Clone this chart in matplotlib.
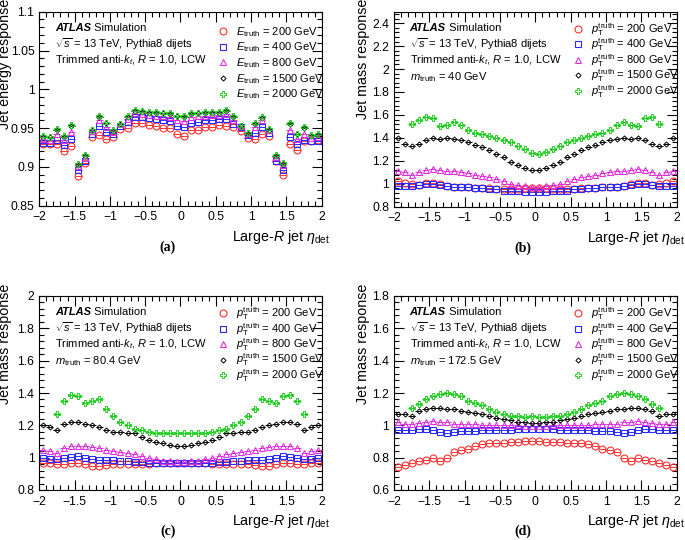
#!/usr/bin/env python3
"""Large-R jet energy / mass response vs eta_det (ATLAS-style 2x2 panel)."""
import numpy as np
import matplotlib
matplotlib.use("Agg")
import matplotlib.pyplot as plt
from matplotlib.ticker import MultipleLocator, AutoMinorLocator, FuncFormatter

plt.rcParams["font.family"] = ["Liberation Sans", "DejaVu Sans"]
plt.rcParams["mathtext.fontset"] = "custom"
plt.rcParams["mathtext.rm"] = "Liberation Sans"
plt.rcParams["mathtext.it"] = "Liberation Sans:italic"
plt.rcParams["mathtext.bf"] = "Liberation Sans:bold"

# bin edges in eta_det, 0.1 wide
eta_edges = np.linspace(-2.0, 2.0, 41)
eta = 0.5 * (eta_edges[:-1] + eta_edges[1:])
eta_in = eta[2:-2]          # 2000 GeV curve in mass panels only |eta|<1.8

# ---- (a) energy response ----
a_200 = [0.930, 0.930, 0.930, 0.920, 0.927, 0.888, 0.905, 0.938, 0.941, 0.936,
         0.939, 0.949, 0.950, 0.956, 0.957, 0.954, 0.953, 0.950, 0.950, 0.942,
         0.940, 0.948, 0.948, 0.951, 0.952, 0.954, 0.953, 0.951, 0.946, 0.937,
         0.936, 0.943, 0.940, 0.907, 0.889, 0.930, 0.922, 0.933, 0.934, 0.935]
a_400 = [0.931, 0.931, 0.935, 0.928, 0.936, 0.896, 0.907, 0.943, 0.953, 0.945,
         0.943, 0.953, 0.958, 0.964, 0.964, 0.963, 0.962, 0.960, 0.959, 0.953,
         0.951, 0.957, 0.958, 0.960, 0.961, 0.962, 0.962, 0.955, 0.951, 0.941,
         0.944, 0.952, 0.944, 0.908, 0.896, 0.938, 0.929, 0.935, 0.933, 0.934]
a_800 = [0.936, 0.935, 0.943, 0.935, 0.945, 0.901, 0.912, 0.946, 0.960, 0.951,
         0.945, 0.955, 0.962, 0.969, 0.968, 0.967, 0.966, 0.965, 0.964, 0.960,
         0.959, 0.964, 0.965, 0.966, 0.967, 0.967, 0.968, 0.961, 0.953, 0.942,
         0.951, 0.960, 0.947, 0.913, 0.902, 0.947, 0.936, 0.942, 0.937, 0.938]
a_1500 = [0.939, 0.938, 0.948, 0.939, 0.953, 0.903, 0.914, 0.947, 0.964, 0.956,
          0.946, 0.955, 0.964, 0.972, 0.971, 0.970, 0.970, 0.969, 0.968, 0.965,
          0.964, 0.968, 0.969, 0.970, 0.970, 0.970, 0.972, 0.964, 0.953, 0.943,
          0.955, 0.963, 0.948, 0.914, 0.904, 0.955, 0.942, 0.950, 0.940, 0.941]
a_2000 = [0.940, 0.939, 0.949, 0.940, 0.954, 0.904, 0.915, 0.948, 0.965, 0.957,
          0.947, 0.955, 0.965, 0.973, 0.972, 0.971, 0.971, 0.970, 0.969, 0.966,
          0.965, 0.969, 0.970, 0.971, 0.971, 0.971, 0.973, 0.965, 0.953, 0.944,
          0.956, 0.964, 0.949, 0.915, 0.905, 0.956, 0.943, 0.951, 0.941, 0.942]

# ---- (b) mass response, m_truth = 40 GeV ----
b_200 = [1.02, 1.01, 1.00, 0.99, 1.01, 1.01, 1.00, 0.98, 0.97, 0.97,
         0.97, 0.96, 0.96, 0.96, 0.95, 0.95, 0.95, 0.95, 0.96, 0.96,
         0.96, 0.96, 0.95, 0.95, 0.95, 0.95, 0.96, 0.96, 0.96, 0.97,
         0.97, 0.97, 0.98, 1.00, 1.01, 1.01, 0.99, 1.00, 1.01, 1.02]
b_400 = [0.98, 0.98, 0.98, 0.99, 1.00, 1.00, 0.99, 0.98, 0.97, 0.97,
         0.97, 0.96, 0.96, 0.95, 0.95, 0.94, 0.94, 0.94, 0.93, 0.93,
         0.93, 0.93, 0.94, 0.94, 0.94, 0.95, 0.95, 0.96, 0.96, 0.97,
         0.97, 0.97, 0.98, 0.99, 1.00, 1.00, 0.99, 0.98, 0.98, 0.98]
b_800 = [1.11, 1.10, 1.08, 1.10, 1.12, 1.13, 1.12, 1.11, 1.11, 1.10,
         1.09, 1.08, 1.07, 1.06, 1.04, 1.02, 1.00, 0.99, 0.98, 0.97,
         0.97, 0.98, 0.99, 1.00, 1.02, 1.04, 1.06, 1.07, 1.08, 1.09,
         1.10, 1.11, 1.11, 1.12, 1.13, 1.12, 1.10, 1.08, 1.10, 1.11]
b_1500 = [1.40, 1.35, 1.33, 1.35, 1.38, 1.40, 1.39, 1.40, 1.39, 1.38,
          1.36, 1.34, 1.32, 1.29, 1.26, 1.23, 1.19, 1.16, 1.14, 1.12,
          1.12, 1.14, 1.16, 1.19, 1.23, 1.26, 1.29, 1.32, 1.34, 1.36,
          1.38, 1.39, 1.40, 1.39, 1.40, 1.38, 1.35, 1.33, 1.35, 1.40]
b_2000 = [1.52, 1.56, 1.58, 1.57, 1.50, 1.51, 1.54, 1.51, 1.47, 1.44,
          1.43, 1.42, 1.40, 1.38, 1.36, 1.33, 1.30, 1.27,
          1.26, 1.28, 1.30, 1.33, 1.36, 1.38, 1.40, 1.42, 1.43, 1.44,
          1.47, 1.51, 1.54, 1.51, 1.50, 1.57, 1.58, 1.52]

# ---- (c) mass response, m_truth = 80.4 GeV ----
c_200 = [0.970, 0.965, 0.960, 0.960, 0.965, 0.965, 0.960, 0.950, 0.950, 0.955,
         0.960, 0.960, 0.960, 0.960, 0.960, 0.960, 0.965, 0.965, 0.970, 0.970,
         0.970, 0.970, 0.965, 0.965, 0.960, 0.960, 0.960, 0.960, 0.960, 0.960,
         0.955, 0.950, 0.950, 0.960, 0.965, 0.965, 0.960, 0.960, 0.965, 0.970]
c_400 = [0.995, 0.990, 0.990, 1.000, 1.005, 1.010, 1.000, 0.990, 0.985, 0.985,
         0.985, 0.980, 0.980, 0.975, 0.975, 0.970, 0.970, 0.970, 0.970, 0.970,
         0.970, 0.970, 0.970, 0.970, 0.970, 0.975, 0.975, 0.980, 0.980, 0.985,
         0.985, 0.985, 0.990, 1.000, 1.010, 1.005, 1.000, 0.990, 0.990, 0.995]
c_800 = [1.050, 1.040, 1.030, 1.060, 1.070, 1.075, 1.070, 1.065, 1.060, 1.050,
         1.040, 1.035, 1.030, 1.020, 1.010, 1.000, 0.990, 0.980, 0.980, 0.975,
         0.975, 0.980, 0.980, 0.990, 1.000, 1.010, 1.020, 1.030, 1.035, 1.040,
         1.050, 1.060, 1.065, 1.070, 1.075, 1.070, 1.060, 1.030, 1.040, 1.050]
c_1500 = [1.200, 1.190, 1.170, 1.210, 1.220, 1.220, 1.210, 1.200, 1.190, 1.170,
          1.160, 1.160, 1.150, 1.150, 1.130, 1.110, 1.100, 1.090, 1.080, 1.075,
          1.075, 1.080, 1.090, 1.100, 1.110, 1.130, 1.150, 1.150, 1.160, 1.160,
          1.170, 1.190, 1.200, 1.210, 1.220, 1.220, 1.210, 1.170, 1.190, 1.200]
c_2000 = [1.27, 1.35, 1.39, 1.38, 1.34, 1.35, 1.36, 1.30, 1.26, 1.22,
          1.20, 1.18, 1.17, 1.16, 1.15, 1.15, 1.15, 1.15,
          1.15, 1.15, 1.15, 1.15, 1.16, 1.17, 1.18, 1.20, 1.22, 1.26,
          1.30, 1.36, 1.35, 1.34, 1.38, 1.39, 1.35, 1.27]

# ---- (d) mass response, m_truth = 172.5 GeV ----
d_200 = [0.745, 0.755, 0.765, 0.780, 0.785, 0.800, 0.780, 0.800, 0.835, 0.845,
         0.855, 0.870, 0.885, 0.890, 0.890, 0.890, 0.895, 0.900, 0.905, 0.905,
         0.905, 0.900, 0.900, 0.895, 0.890, 0.890, 0.890, 0.885, 0.870, 0.855,
         0.845, 0.835, 0.800, 0.780, 0.800, 0.785, 0.780, 0.765, 0.755, 0.745]
d_400 = [0.970, 0.970, 0.970, 0.980, 0.975, 0.970, 0.960, 0.955, 0.960, 0.965,
         0.965, 0.965, 0.970, 0.970, 0.970, 0.970, 0.970, 0.975, 0.975, 0.975,
         0.975, 0.975, 0.975, 0.970, 0.970, 0.970, 0.970, 0.970, 0.965, 0.965,
         0.965, 0.960, 0.955, 0.960, 0.970, 0.975, 0.980, 0.970, 0.970, 0.970]
d_800 = [1.020, 1.010, 1.010, 1.015, 1.020, 1.025, 1.020, 1.020, 1.010, 1.010,
         1.010, 1.010, 1.005, 1.000, 1.000, 1.000, 1.000, 1.000, 0.995, 0.995,
         0.995, 0.995, 1.000, 1.000, 1.000, 1.000, 1.000, 1.005, 1.010, 1.010,
         1.010, 1.010, 1.020, 1.020, 1.025, 1.020, 1.015, 1.010, 1.010, 1.020]
d_1500 = [1.070, 1.070, 1.060, 1.090, 1.100, 1.110, 1.105, 1.100, 1.100, 1.090,
          1.085, 1.075, 1.070, 1.055, 1.045, 1.040, 1.030, 1.020, 1.020, 1.015,
          1.015, 1.020, 1.020, 1.030, 1.040, 1.045, 1.055, 1.070, 1.075, 1.085,
          1.090, 1.100, 1.100, 1.105, 1.110, 1.100, 1.090, 1.060, 1.070, 1.070]
d_2000 = [1.110, 1.135, 1.160, 1.180, 1.195, 1.200, 1.195, 1.180, 1.150, 1.140,
          1.125, 1.100, 1.085, 1.070, 1.060, 1.055, 1.050, 1.055,
          1.050, 1.050, 1.055, 1.060, 1.070, 1.085, 1.100, 1.125, 1.140, 1.150,
          1.180, 1.195, 1.200, 1.195, 1.180, 1.160, 1.135, 1.110]

energies = ["200", "400", "800", "1500", "2000"]
colors = ["#ff3030", "#2a2aff", "#e030e0", "#000000", "#22d022"]
markers = ["o", "s", "^", "D", "P"]
msizes = [5.0, 5.0, 5.0, 2.6, 5.0]
mews = [0.8, 0.8, 0.8, 0.7, 0.7]
TXT = 8.0

W, H = 685, 540
fig = plt.figure(figsize=(W / 100, H / 100), dpi=100)

root_fmt = FuncFormatter(lambda v, p: ("%g" % round(v, 3)).replace("-", "\u2212"))


def px_axes(left, top, right, bottom):
    return fig.add_axes([left / W, 1 - bottom / H, (right - left) / W, (bottom - top) / H])


def style(ax, ylim, ymaj):
    ax.set_xlim(-2, 2)
    ax.set_ylim(*ylim)
    ax.xaxis.set_major_locator(MultipleLocator(0.5))
    ax.xaxis.set_minor_locator(AutoMinorLocator(5))
    ax.yaxis.set_major_locator(MultipleLocator(ymaj))
    ax.yaxis.set_minor_locator(AutoMinorLocator(5))
    ax.xaxis.set_major_formatter(root_fmt)
    ax.yaxis.set_major_formatter(root_fmt)
    ax.tick_params(which="both", direction="in", top=True, right=True, labelsize=8.8)
    ax.tick_params(which="major", length=7, width=0.8)
    ax.tick_params(which="minor", length=3.5, width=0.8)
    ax.tick_params(axis="x", pad=4)
    for s in ax.spines.values():
        s.set_linewidth(0.8)
    ax.set_xlabel(r"Large-$R$ jet $\eta_{\mathrm{det}}$", fontsize=10.3, ha="right")
    ax.xaxis.set_label_coords(1.03, -0.115)


def draw(ax, series, xs_list, legend_fmt, spacing, top):
    handles, labels = [], []
    for vals, xs, e, c, m, ms, mw in zip(series, xs_list, energies, colors,
                                         markers, msizes, mews):
        h = ax.errorbar(xs, vals, xerr=0.05, fmt=m, ms=ms, mfc="none", mec=c,
                        mew=mw, ecolor=c, elinewidth=0.7, capsize=0)
        handles.append(h[0])
        labels.append(legend_fmt.replace("ENERGY", e))
    ax.legend(handles, labels, loc="upper left",
              bbox_to_anchor=(0.62, top), frameon=False, fontsize=TXT,
              handlelength=0.8, handletextpad=0.75, labelspacing=spacing,
              borderaxespad=0)


def header(ax, lines, y0=0.915):
    t = ax.text(0.055, y0, "ATLAS", transform=ax.transAxes, fontsize=TXT,
                fontweight="bold", style="italic", va="center")
    ax.annotate(" Simulation", xy=(1, 0.5), xycoords=t, fontsize=TXT,
                va="center", ha="left")
    for i, line in enumerate(lines):
        ax.text(0.055, y0 - 0.083 * (i + 1), line, transform=ax.transAxes,
                fontsize=TXT, va="center")


def ylab(ax, text, x):
    ax.set_ylabel(text, fontsize=10.3, ha="right")
    ax.yaxis.set_label_coords(x, 1.065)


common = [r"$\sqrt{s}$ = 13 TeV, Pythia8 dijets",
          r"Trimmed anti-$k_{t}$, $R$ = 1.0, LCW"]
pt_fmt = r"$p_{\mathrm{T}}^{\mathrm{truth}}$ = ENERGY GeV"
e_fmt = r"$E_{\mathrm{truth}}$ = ENERGY GeV"
full = [eta] * 4 + [eta_in]

# (a)
ax_a = px_axes(39.3, 11.7, 321.7, 205.7)
style(ax_a, (0.85, 1.1), 0.05)
draw(ax_a, [a_200, a_400, a_800, a_1500, a_2000], [eta] * 5, e_fmt, 0.17, 0.955)
header(ax_a, common)
ylab(ax_a, "Jet energy response", -0.095)

# (b)
ax_b = px_axes(394, 11.7, 676.7, 206.7)
style(ax_b, (0.8, 2.5), 0.2)
draw(ax_b, [b_200, b_400, b_800, b_1500, b_2000], full, pt_fmt, -0.12, 0.975)
header(ax_b, common + [r"$m_{\mathrm{truth}}$ = 40 GeV"])
ylab(ax_b, "Jet mass response", -0.085)

# (c)
ax_c = px_axes(39.3, 296, 321.7, 490)
style(ax_c, (0.8, 2.0), 0.2)
draw(ax_c, [c_200, c_400, c_800, c_1500, c_2000], full, pt_fmt, -0.12, 0.975)
header(ax_c, common + [r"$m_{\mathrm{truth}}$ = 80.4 GeV"])
ylab(ax_c, "Jet mass response", -0.095)

# (d)
ax_d = px_axes(394, 296, 676.7, 490)
style(ax_d, (0.6, 1.8), 0.2)
draw(ax_d, [d_200, d_400, d_800, d_1500, d_2000], full, pt_fmt, -0.12, 0.975)
header(ax_d, common + [r"$m_{\mathrm{truth}}$ = 172.5 GeV"])
ylab(ax_d, "Jet mass response", -0.085)

for ax, lab in zip([ax_a, ax_b, ax_c, ax_d], ["(a)", "(b)", "(c)", "(d)"]):
    ax.text(0.455, -0.215, lab, transform=ax.transAxes, ha="center", va="center",
            fontsize=10, fontweight="bold", family=["Liberation Serif", "DejaVu Serif"])

fig.savefig("out.png", dpi=100)
